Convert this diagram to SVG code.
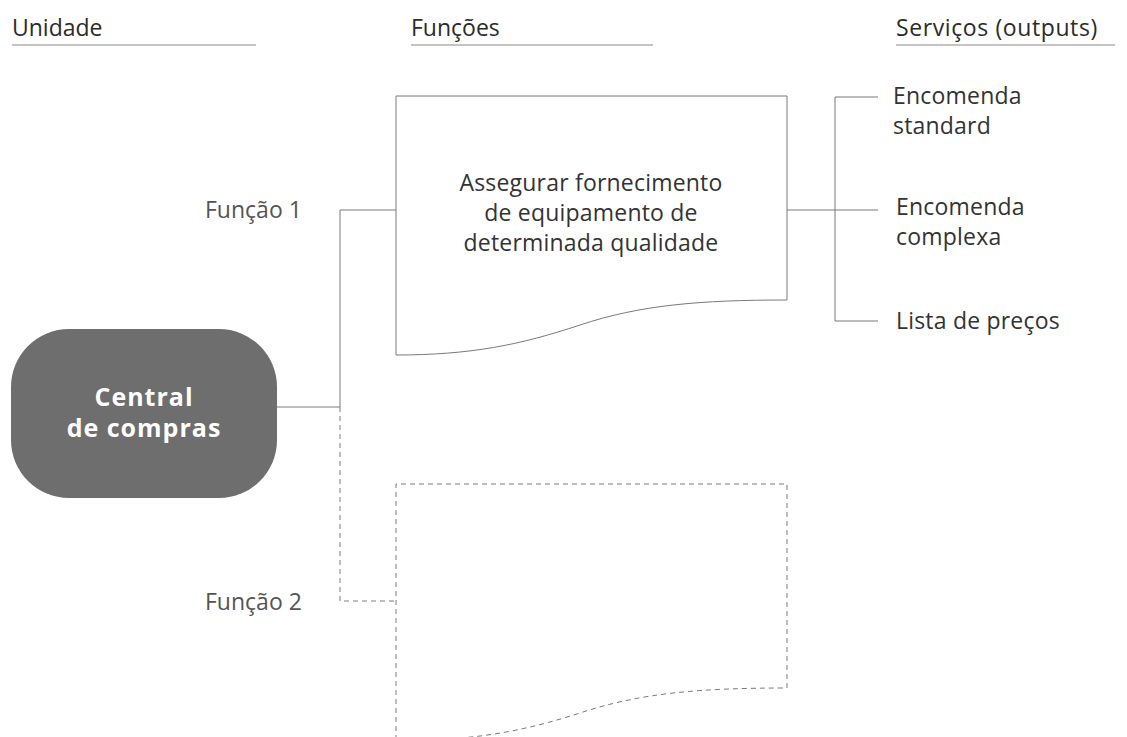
<svg xmlns="http://www.w3.org/2000/svg" width="1127" height="737" viewBox="0 0 1127 737">
<style>
text{font-family:"Open Sans","Noto Sans","Liberation Sans",sans-serif;}
.hd{font-size:23px;fill:#2b2b2b;}
.hl{stroke:#8a8a8a;stroke-width:1.2;fill:none;}
.ln{stroke:#7a7a7a;stroke-width:1;fill:none;}
.dash{stroke:#7a7a7a;stroke-width:1;fill:none;stroke-dasharray:5,4;}
.lab{font-size:23px;fill:#555;}
.body{font-size:23px;fill:#333;letter-spacing:0.2px;}
.ctr{font-size:25px;font-weight:bold;fill:#fff;letter-spacing:1px;}
</style>
<rect width="1127" height="737" fill="#fff"/>
<g id="headers">
<text class="hd" x="12" y="36">Unidade</text>
<line class="hl" x1="12" y1="45" x2="256" y2="45"/>
<text class="hd" x="411" y="36">Funções</text>
<line class="hl" x1="411" y1="45" x2="653" y2="45"/>
<text class="hd" x="896" y="36" letter-spacing="0.6">Serviços (outputs)</text>
<line class="hl" x1="896" y1="45" x2="1115" y2="45"/>
</g>
<g id="connectors">
<line class="ln" x1="277" y1="407" x2="340" y2="407"/>
<polyline class="ln" points="340,407 340,210 396,210"/>
<polyline class="dash" points="340,407 340,601 396,601"/>
<line class="ln" x1="787" y1="210" x2="835" y2="210"/>
<polyline class="ln" points="878,97 835,97 835,321 878,321"/>
<line class="ln" x1="835" y1="210" x2="878" y2="210"/>
</g>
<g id="central">
<rect x="11" y="329" width="266" height="169" rx="58" ry="58" fill="#6e6e6e"/>
<text class="ctr" x="144" y="406" text-anchor="middle">Central</text>
<text class="ctr" x="144" y="437" text-anchor="middle">de compras</text>
</g>
<g id="funcao1">
<text class="lab" x="205" y="218">Função 1</text>
<path class="ln" d="M396,96 H787 V300 C700,300 640,305 580,325 C520,345 470,355 396,355 Z"/>
<text class="body" x="591" y="191" text-anchor="middle">Assegurar fornecimento</text>
<text class="body" x="591" y="221" text-anchor="middle">de equipamento de</text>
<text class="body" x="591" y="251" text-anchor="middle">determinada qualidade</text>
</g>
<g id="funcao2">
<text class="lab" x="205" y="610">Função 2</text>
<path class="dash" d="M396,740 V484 H787 V688 C700,688 640,693 580,713 C540,726 500,735 460,738"/>
</g>
<g id="servicos">
<text class="body" x="893" y="104">Encomenda</text>
<text class="body" x="893" y="134">standard</text>
<text class="body" x="896" y="215">Encomenda</text>
<text class="body" x="896" y="245">complexa</text>
<text class="body" x="896" y="329">Lista de preços</text>
</g>
</svg>
